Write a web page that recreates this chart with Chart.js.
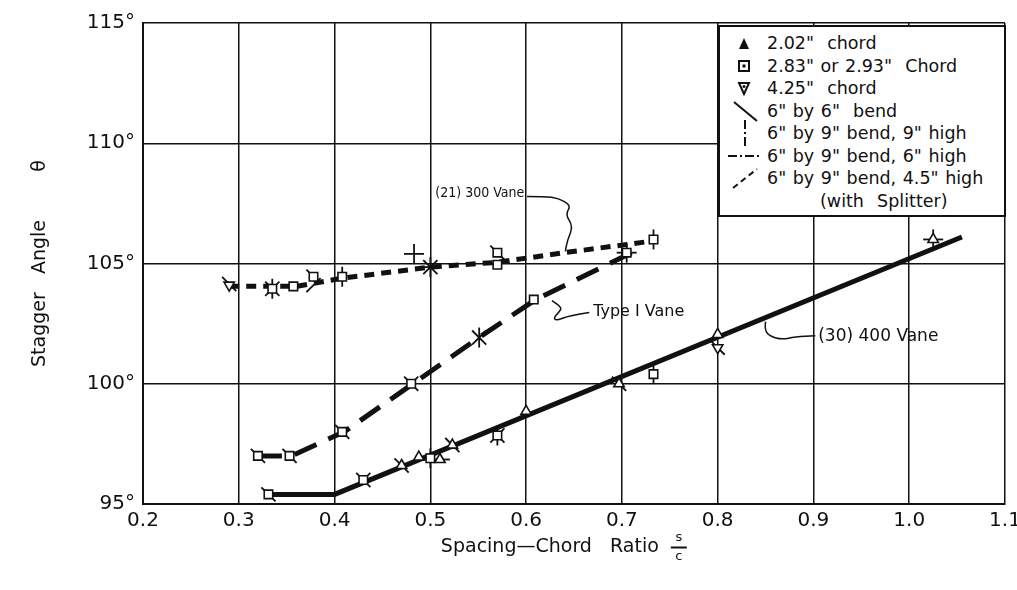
<!DOCTYPE html>
<html>
<head>
<meta charset="utf-8">
<script src="https://cdn.jsdelivr.net/npm/chart.js@4.4.1/dist/chart.umd.min.js"></script>
<style>
  body { margin: 0; background: #fff; }
  #wrap { position: relative; width: 1017px; height: 590px; }
  #legend {
    position: absolute; left: 718px; top: 25px; width: 288px; height: 192px;
    box-sizing: border-box; border: 2px solid #111; background: #fff;
    font-family: 'DejaVu Sans', sans-serif; font-size: 17.5px; color: #111;
    padding-top: 5px; word-spacing: 1px;
  }
  .row { height: 22.5px; display: flex; align-items: center; white-space: pre; }
  .row svg { width: 47px; height: 22px; flex: none; overflow: visible; }
  .sub { padding-left: 100px; }
</style>
</head>
<body>
<div id="wrap">
  <canvas id="stagger" width="1017" height="590"></canvas>
  <div id="legend">
    <div class="row"><svg><polygon points="19,17 29,17 24,6" fill="#111"/></svg>2.02"  chord</div>
    <div class="row"><svg><rect x="19" y="6" width="10" height="10" fill="none" stroke="#111" stroke-width="2"/><rect x="22.5" y="9.5" width="3" height="3" fill="#111"/></svg>2.83" or 2.93"  Chord</div>
    <div class="row"><svg><polygon points="19,6 29,6 24,17" fill="none" stroke="#111" stroke-width="2"/><circle cx="24" cy="9.5" r="1.5" fill="#111"/></svg>4.25"  chord</div>
    <div class="row"><svg><line x1="14" y1="2" x2="37" y2="21" stroke="#111" stroke-width="2"/></svg>6" by 6"  bend</div>
    <div class="row"><svg><line x1="25" y1="-2" x2="25" y2="27" stroke="#111" stroke-width="2" stroke-dasharray="9,3,2,3"/></svg>6" by 9" bend, 9" high</div>
    <div class="row"><svg><line x1="8" y1="11" x2="40" y2="11" stroke="#111" stroke-width="2" stroke-dasharray="9,3,2,3"/></svg>6" by 9" bend, 6" high</div>
    <div class="row"><svg><line x1="13" y1="21" x2="37" y2="2" stroke="#111" stroke-width="2" stroke-dasharray="6,4"/></svg>6" by 9" bend, 4.5" high</div>
    <div class="row sub">(with  Splitter)</div>
  </div>
</div>
<script>
// tick values
const xTicks = [0.2, 0.3, 0.4, 0.5, 0.6, 0.7, 0.8, 0.9, 1.0, 1.1]
const yTicks = [95, 100, 105, 110, 115]

// faired curves
const vane300X = [0.29, 0.36, 0.41, 0.50, 0.57, 0.64, 0.735]
const vane300Y = [104.05, 104.05, 104.4, 104.85, 105.05, 105.45, 105.95]
const typeIX = [0.32, 0.355, 0.41, 0.48, 0.55, 0.61, 0.71]
const typeIY = [97.0, 97.0, 98.0, 99.95, 101.9, 103.5, 105.45]
const vane400X = [0.335, 0.40, 1.055]
const vane400Y = [95.4, 95.4, 106.1]

// test points by chord
const chord202X = [0.47, 0.488, 0.51, 0.523, 0.60, 0.697, 0.80, 1.025]
const chord202Y = [96.6, 96.95, 96.85, 97.45, 98.85, 100.0, 102.05, 106.0]
const chord283X = [0.335, 0.357, 0.378, 0.408, 0.57, 0.57, 0.733, 0.32, 0.353, 0.408, 0.48, 0.608, 0.705, 0.331, 0.43, 0.50, 0.57, 0.733]
const chord283Y = [103.95, 104.05, 104.45, 104.45, 105.45, 104.95, 106.0, 97.0, 97.0, 98.0, 100.0, 103.5, 105.45, 95.4, 96.0, 96.9, 97.85, 100.4]
const chord425X = [0.29, 0.80]
const chord425Y = [104.1, 101.5]

// bend flags
const bend66X = [0.29, 0.335, 0.378, 0.57, 0.32, 0.353, 0.408, 0.48, 0.551, 0.331, 0.43, 0.47, 0.523, 0.57, 0.697, 0.80, 0.50]
const bend66Y = [104.15, 103.95, 104.45, 105.45, 97.0, 97.0, 98.0, 100.0, 101.92, 95.4, 96.0, 96.6, 97.45, 97.85, 100.0, 101.5, 104.85]
const bend99X = [0.408, 0.483, 0.50, 0.733, 0.705, 0.50, 0.733, 1.025, 0.551, 0.335, 0.57]
const bend99Y = [104.45, 105.4, 104.85, 106.0, 105.45, 96.9, 100.4, 106.0, 101.92, 103.95, 97.85]
const bend96X = [0.483, 0.50, 0.705, 1.025, 0.51]
const bend96Y = [105.4, 104.85, 105.45, 106.0, 96.85]
const bend945X = [0.335, 0.50, 0.48, 0.43, 0.551, 0.57, 0.378]
const bend945Y = [103.95, 104.85, 100.0, 96.0, 101.92, 97.85, 104.1]

const pts = (xs, ys) => xs.map((v, i) => ({x: v, y: ys[i]}))
const ink = '#111'

const xTitle = 'Spacing\u2014Chord   Ratio' + ' '.repeat(8)

const notes = [
  {text: '(21) 300 Vane', font: '14px "DejaVu Sans Condensed", "DejaVu Sans"', align: 'right', at: [0.598, 107.9],
   leader: [[0.601, 107.79], [0.619, 107.79], [0.634, 107.71], [0.647, 107.42], [0.641, 107.04], [0.649, 106.54], [0.643, 105.96], [0.641, 105.5]]},
  {text: 'Type I Vane', font: '16px "DejaVu Sans"', align: 'left', at: [0.67, 103.0],
   leader: [[0.666, 102.96], [0.645, 102.83], [0.631, 102.62], [0.629, 102.75], [0.634, 102.96], [0.6375, 103.17], [0.627, 103.46]]},
  {text: '(30) 400 Vane', font: '17px "DejaVu Sans"', align: 'left', at: [0.905, 101.96],
   leader: [[0.85, 102.58], [0.849, 102.29], [0.853, 102.0], [0.867, 101.83], [0.881, 101.96], [0.902, 102.0]]}
]

const annotate = {
  id: 'annotate',
  afterDatasetsDraw(chart) {
    const {ctx, chartArea, scales: {x, y}} = chart
    ctx.save()
    ctx.strokeStyle = ink
    ctx.fillStyle = ink
    ctx.lineWidth = 1.5
    ctx.lineJoin = 'round'
    notes.forEach(n => {
      const p = n.leader.map(q => [x.getPixelForValue(q[0]), y.getPixelForValue(q[1])])
      ctx.beginPath()
      ctx.moveTo(p[0][0], p[0][1])
      for (let i = 1; i < p.length - 1; i++) {
        ctx.quadraticCurveTo(p[i][0], p[i][1], (p[i][0] + p[i + 1][0]) / 2, (p[i][1] + p[i + 1][1]) / 2)
      }
      ctx.lineTo(p[p.length - 1][0], p[p.length - 1][1])
      ctx.stroke()
      ctx.font = n.font
      ctx.textAlign = n.align
      ctx.textBaseline = 'middle'
      ctx.fillText(n.text, x.getPixelForValue(n.at[0]), y.getPixelForValue(n.at[1]))
    })
    // s/c fraction after the x title
    ctx.font = '19px "DejaVu Sans"'
    const full = ctx.measureText(xTitle).width
    const vis = ctx.measureText(xTitle.trimEnd()).width
    const fx = (chartArea.left + chartArea.right) / 2 - full / 2 + vis + 20
    ctx.font = '13px "DejaVu Sans"'
    ctx.textAlign = 'center'
    ctx.textBaseline = 'middle'
    ctx.fillText('s', fx, 538)
    ctx.fillText('c', fx, 557)
    ctx.lineWidth = 2
    ctx.beginPath()
    ctx.moveTo(fx - 8, 547.5)
    ctx.lineTo(fx + 8, 547.5)
    ctx.stroke()
    ctx.restore()
  }
}

const marker = (label, xs, ys, style, rot) => ({
  label, data: pts(xs, ys), pointStyle: style, rotation: rot, pointRadius: 6,
  pointBackgroundColor: '#fff', pointBorderColor: ink, pointBorderWidth: 1.6, order: 0
})
const flag = (label, xs, ys, rot) => ({
  label, data: pts(xs, ys), pointStyle: 'line', rotation: rot, pointRadius: 10,
  pointBorderColor: ink, pointBorderWidth: 1.8, order: 1
})
const curve = (label, xs, ys, dash) => ({
  label, data: pts(xs, ys), showLine: true, pointRadius: 0, borderColor: ink,
  borderWidth: 5, borderDash: dash, borderCapStyle: 'butt', order: 2
})

const ctx = document.getElementById('stagger').getContext('2d')
const stagger = new Chart(ctx, {
  type: 'scatter',
  data: {
    datasets: [
      marker('2.02" chord', chord202X, chord202Y, 'triangle', 0),
      marker('2.83" or 2.93" Chord', chord283X, chord283Y, 'rect', 0),
      marker('4.25" chord', chord425X, chord425Y, 'triangle', 180),
      flag('6" by 6" bend', bend66X, bend66Y, 45),
      flag('6" by 9" bend, 9" high', bend99X, bend99Y, 90),
      flag('6" by 9" bend, 6" high', bend96X, bend96Y, 0),
      flag('6" by 9" bend, 4.5" high (with Splitter)', bend945X, bend945Y, -45),
      curve('(21) 300 Vane', vane300X, vane300Y, [10, 7]),
      curve('Type I Vane', typeIX, typeIY, [24, 13]),
      curve('(30) 400 Vane', vane400X, vane400Y, [])
    ]
  },
  options: {
    responsive: false,
    animation: false,
    events: [],
    layout: { padding: { top: 23, right: 12, left: 0, bottom: 0 } },
    scales: {
      x: {
        type: 'linear', min: 0.2, max: 1.1,
        afterBuildTicks: s => { s.ticks = xTicks.map(v => ({value: v})) },
        afterFit: s => { s.height = 86; s.paddingLeft = 0; s.paddingRight = 0 },
        ticks: { color: ink, font: { family: 'DejaVu Sans', size: 20 }, padding: 5, callback: v => v.toFixed(1) },
        grid: { color: ink, lineWidth: 1.5, drawTicks: false },
        border: { color: ink, width: 2 },
        title: { display: true, text: xTitle, color: ink, font: { family: 'DejaVu Sans', size: 19 }, padding: { top: 0, bottom: 32 } }
      },
      y: {
        min: 95, max: 115,
        afterBuildTicks: s => { s.ticks = yTicks.map(v => ({value: v})) },
        afterFit: s => { s.width = 143; s.paddingTop = 0; s.paddingBottom = 0 },
        ticks: { color: ink, font: { family: 'DejaVu Sans', size: 20 }, padding: 8, callback: v => v + '\u00b0' },
        grid: { color: ink, lineWidth: 1.5, drawTicks: false },
        border: { color: ink, width: 2 },
        title: { display: true, text: 'Stagger   Angle        \u03b8', color: ink, font: { family: 'DejaVu Sans', size: 19 }, padding: { top: 29, bottom: 0 } }
      }
    },
    plugins: {
      legend: { display: false },
      tooltip: { enabled: false }
    }
  },
  plugins: [annotate]
})
</script>
</body>
</html>
